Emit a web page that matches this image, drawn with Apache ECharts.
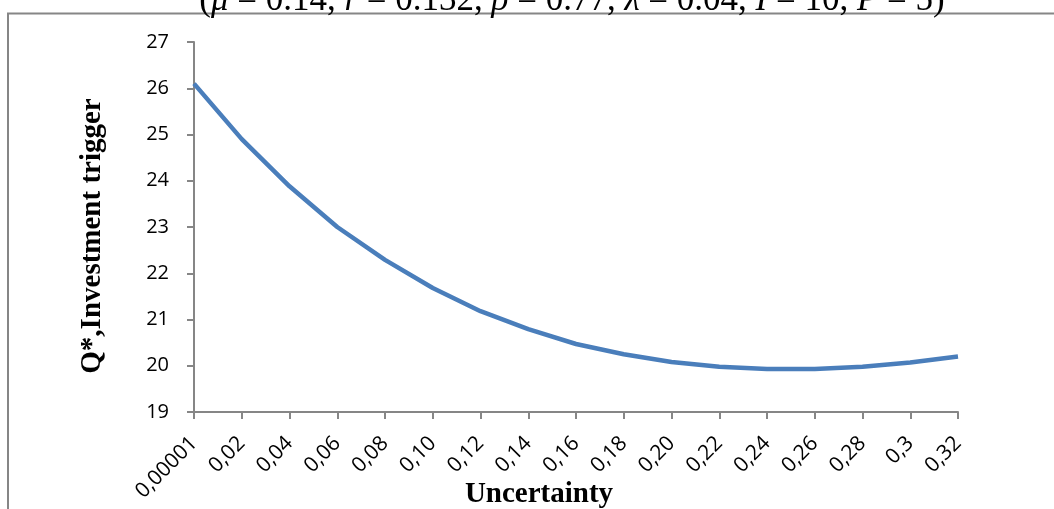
<!DOCTYPE html>
<html lang="en">
<head>
    <meta charset="UTF-8">
    <title>Investment trigger vs uncertainty</title>
    <style>
        html, body { margin: 0; padding: 0; background: #fff; overflow: hidden; }
        .show { width: 1054px; height: 509px; }
    </style>
</head>
<body>
    <div class="show"></div>
    <script src="https://cdn.jsdelivr.net/npm/echarts@6/dist/echarts.min.js"></script>
    <script>
        // 数据
        const uncertainty = ['0,00001', '0,02', '0,04', '0,06', '0,08', '0,10', '0,12', '0,14', '0,16',
            '0,18', '0,20', '0,22', '0,24', '0,26', '0,28', '0,3', '0,32'];
        const trigger = [26.1, 24.9, 23.88, 23.0, 22.29, 21.68, 21.18, 20.79, 20.47,
            20.25, 20.08, 19.98, 19.93, 19.93, 19.98, 20.07, 20.2];
        const yTicks = { min: 19, max: 27, interval: 1 };

        // 标题只露出下半截（斜体变量用 rich 文本）
        const title = '({i|\u03BC} = 0.14, {i|r} = 0.132, {i|\u03C1} = 0.77, {i|\u03BB} = 0.04, {i|I} = 10, {i|P} = 5)';
        const axisGray = '#868686';
        const labelFont = '"Open Sans", "Noto Sans", sans-serif';

        const myChart = echarts.init(document.querySelector('.show'));
        const option = {
            backgroundColor: '#fff',
            animation: false,
            grid: { left: 194, right: 96, top: 42, bottom: 97 },
            graphic: [
                { // 外框
                    type: 'polyline',
                    shape: { points: [[8, 509], [8, 13.5], [1054, 13.5]] },
                    style: { stroke: axisGray, lineWidth: 2, fill: null }
                },
                {
                    type: 'text',
                    style: {
                        text: title,
                        x: 572, y: 18,
                        align: 'center',
                        verticalAlign: 'bottom',
                        font: '35px "Liberation Serif", "DejaVu Serif", serif',
                        fill: '#000',
                        rich: {
                            i: { font: 'italic 35px "Liberation Serif", "DejaVu Serif", serif', fill: '#000' }
                        }
                    }
                },
                {
                    type: 'text',
                    style: {
                        text: 'Uncertainty',
                        x: 539, y: 509,
                        align: 'center',
                        verticalAlign: 'bottom',
                        font: 'bold 29px "Liberation Serif", serif',
                        fill: '#000'
                    }
                }
            ],
            xAxis: {
                type: 'category',
                data: uncertainty,
                boundaryGap: false,
                axisLine: { lineStyle: { color: axisGray, width: 2 } },
                axisTick: { show: true, length: 7, lineStyle: { color: axisGray, width: 2 } },
                axisLabel: {
                    interval: 0,
                    rotate: 45,
                    margin: 28,
                    color: '#000',
                    fontSize: 21,
                    fontFamily: labelFont
                },
                splitLine: { show: false }
            },
            yAxis: {
                type: 'value',
                min: yTicks.min,
                max: yTicks.max,
                interval: yTicks.interval,
                name: 'Q*,Investment trigger',
                nameLocation: 'middle',
                nameGap: 87,
                nameTextStyle: {
                    color: '#000',
                    fontSize: 29,
                    fontWeight: 'bold',
                    fontFamily: '"Liberation Serif", serif',
                    padding: [0, 18, 0, 0]
                },
                axisLine: { show: true, lineStyle: { color: axisGray, width: 2 } },
                axisTick: { show: true, length: 7, lineStyle: { color: axisGray, width: 2 } },
                axisLabel: {
                    color: '#000',
                    fontSize: 20,
                    margin: 25,
                    fontFamily: labelFont
                },
                splitLine: { show: false }
            },
            series: [{
                type: 'line',
                data: trigger,
                symbol: 'none',
                lineStyle: { color: '#4a7ebb', width: 4.5 }
            }]
        };
        myChart.setOption(option);
    </script>
</body>
</html>
